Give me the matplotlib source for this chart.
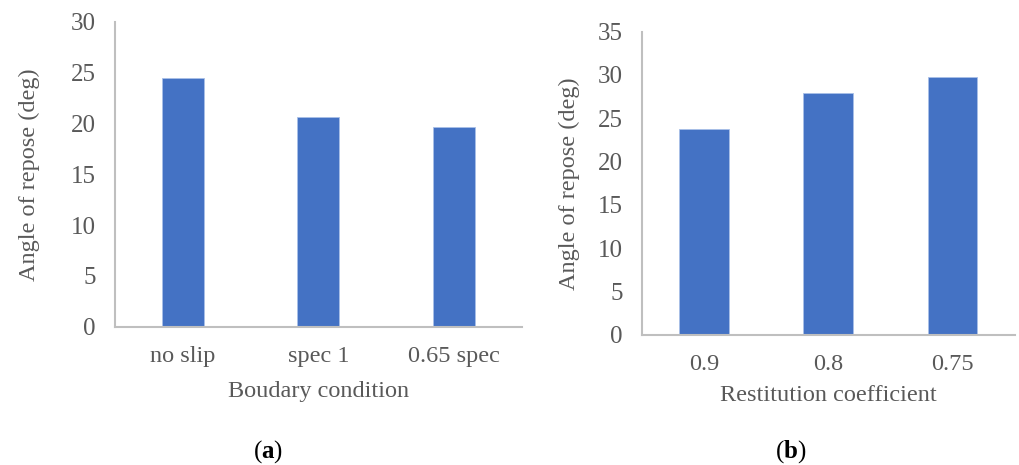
import matplotlib.pyplot as plt
import numpy as np

plt.rcParams['font.family'] = ['Liberation Serif', 'DejaVu Serif']
plt.rcParams['mathtext.fontset'] = 'custom'
plt.rcParams['mathtext.rm'] = 'Liberation Serif'
plt.rcParams['mathtext.bf'] = 'Liberation Serif:bold'

# data
cond_labels = ['no slip', 'spec 1', '0.65 spec']
cond_angles = [24.5, 20.6, 19.7]
rest_labels = ['0.9', '0.8', '0.75']
rest_angles = [23.8, 27.9, 29.8]

bar_color = '#4472C4'
text_color = '#595959'
axis_color = '#BFBFBF'

fig = plt.figure(figsize=(10.19, 4.65), dpi=100)
ax1 = fig.add_axes([0.1129, 0.2974, 0.399, 0.6555])
ax2 = fig.add_axes([0.630, 0.2796, 0.3656, 0.6525])


def style(ax, labels, values, width, ymax, xlabel, ylab_x, xlab_y):
    x = np.arange(len(labels))
    ax.bar(x, values, width=width, color=bar_color, edgecolor='#A9C0E8', linewidth=0.6)
    ax.set_xlim(-0.5, len(labels) - 0.5)
    ax.set_ylim(0, ymax)
    ax.set_yticks(np.arange(0, ymax + 1, 5))
    ax.set_xticks(x)
    ax.set_xticklabels(labels)
    ax.tick_params(length=0, colors=text_color)
    ax.tick_params(axis='y', labelsize=18, pad=14)
    ax.tick_params(axis='x', labelsize=17.5, pad=14)
    for s in ['top', 'right']:
        ax.spines[s].set_visible(False)
    for s in ['left', 'bottom']:
        ax.spines[s].set_color(axis_color)
        ax.spines[s].set_linewidth(1.5)
    ax.set_ylabel('Angle of repose (deg)', fontsize=17.5, color=text_color, va='center')
    ax.set_xlabel(xlabel, fontsize=17.5, color=text_color, va='center')
    ax.yaxis.set_label_coords(ylab_x, 0.5)
    ax.xaxis.set_label_coords(0.5, xlab_y)


style(ax1, cond_labels, cond_angles, 0.31, 30, 'Boudary condition', -0.211, -0.213)
style(ax2, rest_labels, rest_angles, 0.40, 35, 'Restitution coefficient', -0.196, -0.198)

fig.text(0.263, 0.028, r'($\mathbf{a}$)', fontsize=18, ha='center', va='center', color='black')
fig.text(0.776, 0.028, r'($\mathbf{b}$)', fontsize=18, ha='center', va='center', color='black')

fig.savefig('out.png', dpi=100)
